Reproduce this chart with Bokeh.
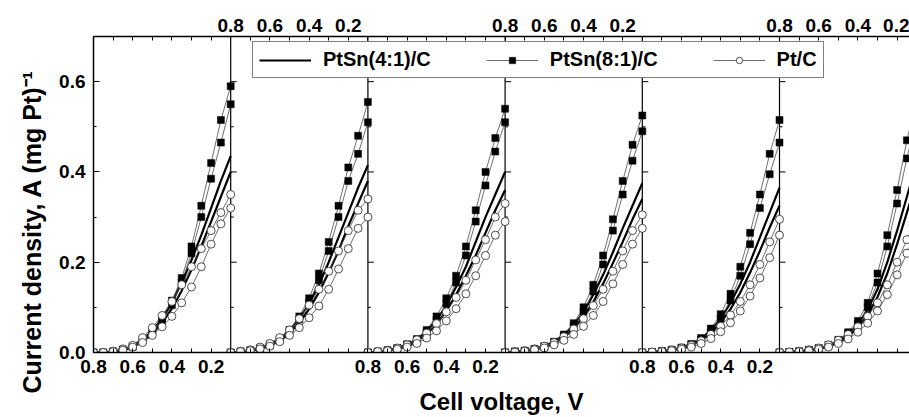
import math

from bokeh.embed import file_html
from bokeh.models import (CustomJSTickFormatter, FixedTicker, Legend, LegendItem,
                          LinearAxis, PrintfTickFormatter, Range1d, Title)
from bokeh.plotting import figure
from bokeh.resources import INLINE

# ---------------------------------------------------------------- data ----
# Cell voltage (V) at which current density was sampled, same grid in every cycle
VOLTAGE = [0.80, 0.75, 0.70, 0.65, 0.60, 0.55, 0.50, 0.45,
           0.40, 0.35, 0.30, 0.25, 0.20, 0.15, 0.10]

# Current density, A (mg Pt)^-1 ; one row per polarisation cycle (panel), two runs per catalyst
PTSN41_A = [
    [0, 0, 0.002, 0.006, 0.014, 0.028, 0.048, 0.075, 0.110, 0.155, 0.205, 0.260, 0.320, 0.380, 0.435],
    [0, 0.002, 0.005, 0.010, 0.018, 0.030, 0.049, 0.075, 0.108, 0.150, 0.200, 0.255, 0.310, 0.365, 0.415],
    [0, 0.002, 0.005, 0.010, 0.017, 0.029, 0.047, 0.072, 0.104, 0.145, 0.190, 0.245, 0.300, 0.350, 0.400],
    [0, 0.002, 0.004, 0.008, 0.014, 0.024, 0.039, 0.060, 0.090, 0.128, 0.172, 0.222, 0.275, 0.325, 0.375],
    [0, 0.001, 0.003, 0.006, 0.011, 0.019, 0.031, 0.049, 0.075, 0.110, 0.152, 0.200, 0.255, 0.310, 0.365],
    [0, 0.001, 0.003, 0.005, 0.009, 0.015, 0.025, 0.040, 0.062, 0.095, 0.140, 0.200, 0.270, 0.345, 0.420],
]
PTSN41_B = [
    [0, 0, 0.002, 0.005, 0.012, 0.024, 0.042, 0.066, 0.097, 0.137, 0.183, 0.235, 0.290, 0.345, 0.400],
    [0, 0.002, 0.004, 0.008, 0.015, 0.026, 0.043, 0.066, 0.096, 0.133, 0.177, 0.225, 0.280, 0.330, 0.380],
    [0, 0.002, 0.004, 0.008, 0.014, 0.025, 0.041, 0.063, 0.092, 0.128, 0.170, 0.215, 0.265, 0.315, 0.360],
    [0, 0.001, 0.003, 0.007, 0.012, 0.021, 0.034, 0.053, 0.079, 0.112, 0.152, 0.198, 0.245, 0.295, 0.340],
    [0, 0.001, 0.002, 0.005, 0.009, 0.016, 0.027, 0.043, 0.066, 0.096, 0.133, 0.177, 0.225, 0.277, 0.325],
    [0, 0.001, 0.002, 0.004, 0.008, 0.013, 0.022, 0.035, 0.055, 0.083, 0.123, 0.175, 0.240, 0.310, 0.380],
]
PTSN81_A = [
    [0, 0, 0.002, 0.006, 0.014, 0.028, 0.048, 0.075, 0.115, 0.165, 0.235, 0.325, 0.420, 0.515, 0.590],
    [0, 0.002, 0.005, 0.010, 0.018, 0.030, 0.050, 0.080, 0.120, 0.175, 0.245, 0.325, 0.410, 0.480, 0.555],
    [0, 0.002, 0.005, 0.010, 0.018, 0.030, 0.050, 0.080, 0.120, 0.170, 0.235, 0.315, 0.400, 0.475, 0.540],
    [0, 0.002, 0.004, 0.008, 0.014, 0.024, 0.040, 0.065, 0.100, 0.150, 0.215, 0.295, 0.380, 0.460, 0.525],
    [0, 0.001, 0.003, 0.006, 0.011, 0.019, 0.032, 0.053, 0.085, 0.130, 0.190, 0.265, 0.350, 0.440, 0.515],
    [0, 0.001, 0.003, 0.006, 0.010, 0.017, 0.028, 0.045, 0.070, 0.110, 0.175, 0.260, 0.360, 0.470, 0.560],
]
PTSN81_B = [
    [0, 0, 0.002, 0.006, 0.013, 0.026, 0.045, 0.070, 0.105, 0.155, 0.220, 0.300, 0.385, 0.465, 0.550],
    [0, 0.002, 0.004, 0.009, 0.016, 0.028, 0.046, 0.073, 0.110, 0.160, 0.225, 0.300, 0.380, 0.440, 0.510],
    [0, 0.002, 0.004, 0.009, 0.016, 0.027, 0.045, 0.072, 0.108, 0.155, 0.215, 0.290, 0.370, 0.445, 0.510],
    [0, 0.002, 0.003, 0.007, 0.012, 0.021, 0.036, 0.058, 0.090, 0.135, 0.195, 0.270, 0.350, 0.425, 0.490],
    [0, 0.001, 0.003, 0.005, 0.010, 0.017, 0.029, 0.047, 0.075, 0.115, 0.170, 0.240, 0.320, 0.395, 0.465],
    [0, 0.001, 0.002, 0.005, 0.009, 0.015, 0.025, 0.040, 0.063, 0.100, 0.155, 0.235, 0.330, 0.430, 0.520],
]
PTC_A = [
    [0, 0, 0.003, 0.008, 0.016, 0.033, 0.055, 0.082, 0.113, 0.150, 0.190, 0.230, 0.270, 0.310, 0.350],
    [0, 0.003, 0.006, 0.012, 0.020, 0.033, 0.050, 0.075, 0.105, 0.140, 0.180, 0.225, 0.270, 0.315, 0.340],
    [0, 0.002, 0.005, 0.010, 0.017, 0.028, 0.043, 0.064, 0.090, 0.122, 0.160, 0.205, 0.250, 0.300, 0.330],
    [0, 0.002, 0.004, 0.008, 0.014, 0.022, 0.035, 0.052, 0.075, 0.104, 0.140, 0.180, 0.225, 0.270, 0.305],
    [0, 0.001, 0.003, 0.006, 0.010, 0.016, 0.026, 0.040, 0.058, 0.083, 0.113, 0.150, 0.195, 0.245, 0.295],
    [0, 0.001, 0.003, 0.006, 0.010, 0.017, 0.027, 0.040, 0.057, 0.080, 0.110, 0.150, 0.200, 0.250, 0.300],
]
PTC_B = [
    [0, 0, 0.002, 0.005, 0.012, 0.022, 0.038, 0.057, 0.080, 0.110, 0.145, 0.190, 0.240, 0.285, 0.320],
    [0, 0.002, 0.004, 0.008, 0.014, 0.024, 0.038, 0.055, 0.077, 0.103, 0.140, 0.185, 0.230, 0.275, 0.300],
    [0, 0.002, 0.004, 0.007, 0.012, 0.020, 0.032, 0.048, 0.070, 0.097, 0.130, 0.170, 0.215, 0.260, 0.290],
    [0, 0.001, 0.003, 0.006, 0.010, 0.017, 0.027, 0.040, 0.058, 0.082, 0.113, 0.152, 0.195, 0.240, 0.275],
    [0, 0.001, 0.002, 0.004, 0.007, 0.012, 0.020, 0.031, 0.046, 0.066, 0.092, 0.125, 0.165, 0.210, 0.260],
    [0, 0.001, 0.002, 0.004, 0.007, 0.012, 0.020, 0.030, 0.045, 0.065, 0.092, 0.128, 0.172, 0.220, 0.270],
]

SERIES_LABELS = ["PtSn(4:1)/C", "PtSn(8:1)/C", "Pt/C"]
Y_TICKS = [0.0, 0.2, 0.4, 0.6]
Y_MINOR_TICKS = [0.1, 0.3, 0.5]
X_LABEL = "Cell voltage, V"
Y_LABEL = "Current density, A (mg Pt)\u207b\u00b9"

# -------------------------------------------------------------- layout ----
W, H = 909, 417
BORDER_LEFT, BORDER_TOP, BORDER_BOTTOM = 93, 36, 63
PANEL_PX = 137.2             # width of one cycle panel in pixels
V_HI, V_LO, V_STEP = 0.8, 0.1, 0.1
Y_MAX = 0.7
FONT = "Liberation Sans"
THIN = "#4a4a4a"

# x is measured in tick steps: panel k spans [k*STEPS, (k+1)*STEPS], voltage falls left to right
STEPS = round((V_HI - V_LO) / V_STEP)
PX_PER_UNIT = PANEL_PX / STEPS
X_END = (W - BORDER_LEFT) / PX_PER_UNIT
N_PANELS = len(PTC_A)


def panel_x(panel, volts):
    return [panel * STEPS + (V_HI - v) / V_STEP for v in volts]


p = figure(width=W, height=H, output_backend="svg", toolbar_location=None,
           x_range=Range1d(0, X_END), y_range=Range1d(0, Y_MAX),
           x_axis_type=None, y_axis_type=None,
           min_border_left=BORDER_LEFT, min_border_right=0,
           min_border_top=BORDER_TOP, min_border_bottom=BORDER_BOTTOM)
p.outline_line_color = None
p.background_fill_color = "white"
p.border_fill_color = "white"

# ---- x axes: bottom labels on cycles 1,3,5; top labels on cycles 2,4,6
tick_code = """
const k = Math.round(tick);
const panel = Math.floor(k / per);
const local = k - panel * per;
if (labeled.indexOf(panel) < 0 || local % 2 != 0) return "";
return (vhi - local * step).toFixed(1);
"""
all_x_ticks = list(range(0, int(math.floor(X_END)) + 1))


def make_x_axis(labeled, title):
    ax = LinearAxis(
        ticker=FixedTicker(ticks=all_x_ticks, minor_ticks=[]),
        formatter=CustomJSTickFormatter(
            args=dict(labeled=labeled, per=STEPS, vhi=V_HI, step=V_STEP), code=tick_code),
        axis_label=title)
    ax.axis_line_width = 1.5
    ax.axis_line_color = "black"
    ax.major_tick_in = 4
    ax.major_tick_out = 0
    ax.major_tick_line_color = "black"
    ax.major_label_text_font = FONT
    ax.major_label_text_font_style = "bold"
    ax.major_label_text_font_size = "19px"
    ax.major_label_text_color = "black"
    ax.axis_label_text_font = FONT
    ax.axis_label_text_font_style = "bold"
    ax.axis_label_text_font_size = "24px"
    ax.axis_label_text_color = "black"
    return ax


bottom_axis = make_x_axis(list(range(0, N_PANELS, 2)), X_LABEL)
bottom_axis.major_label_standoff = 7
bottom_axis.axis_label_standoff = 12
p.add_layout(bottom_axis, "below")

top_axis = make_x_axis(list(range(1, N_PANELS, 2)), None)
top_axis.major_label_standoff = 5
p.add_layout(top_axis, "above")

# ---- y axis; its title sits in a side title so it can be shifted along the axis
y_axis = LinearAxis(ticker=FixedTicker(ticks=Y_TICKS, minor_ticks=Y_MINOR_TICKS),
                    formatter=PrintfTickFormatter(format="%.1f"))
y_axis.axis_line_width = 1.5
y_axis.major_tick_in = 6
y_axis.major_tick_out = 0
y_axis.minor_tick_in = 3
y_axis.minor_tick_out = 0
y_axis.major_label_standoff = 8
y_axis.major_label_text_font = FONT
y_axis.major_label_text_font_style = "bold"
y_axis.major_label_text_font_size = "19px"
y_axis.major_label_text_color = "black"
p.add_layout(y_axis, "left")

# title starts a little below the frame's bottom edge, as on the printed figure
y_title = Title(text=Y_LABEL, align="left", offset=-41, standoff=22,
                text_font=FONT, text_font_style="bold", text_font_size="25px",
                text_color="black")
p.add_layout(y_title, "left")

# ---- panel separators with their own inward ticks
bounds = [k * STEPS for k in range(1, N_PANELS)]
p.segment(x0=bounds, y0=[0] * len(bounds), x1=bounds, y1=[Y_MAX] * len(bounds),
          line_color="black", line_width=1.2)
tick_levels = [t for t in sorted(Y_TICKS + Y_MINOR_TICKS) if t > 0]
tx0, ty, tx1 = [], [], []
for b in bounds:
    for t in tick_levels:
        length = 6 if t in Y_TICKS else 3
        tx0.append(b)
        tx1.append(b + length / PX_PER_UNIT)
        ty.append(t)
p.segment(x0=tx0, y0=ty, x1=tx1, y1=ty, line_color="black", line_width=1)


# ---- curves
def curves(runs):
    xs, ys = [], []
    for run in runs:
        for k, row in enumerate(run):
            xs.append(panel_x(k, VOLTAGE))
            ys.append(row)
    return xs, ys


def flat(xs, ys):
    fx = [x for row in xs for x in row]
    fy = [y for row in ys for y in row]
    return fx, fy


xs41, ys41 = curves([PTSN41_A, PTSN41_B])
r41 = p.multi_line(xs41, ys41, line_color="black", line_width=2.2)

xs81, ys81 = curves([PTSN81_A, PTSN81_B])
r81_line = p.multi_line(xs81, ys81, line_color=THIN, line_width=0.8)
fx81, fy81 = flat(xs81, ys81)
r81_mark = p.scatter(fx81, fy81, marker="square", size=7, fill_color="black",
                     line_color="black", line_width=0.5)

xspt, yspt = curves([PTC_A, PTC_B])
rpt_line = p.multi_line(xspt, yspt, line_color=THIN, line_width=0.8)
fxpt, fypt = flat(xspt, yspt)
rpt_mark = p.scatter(fxpt, fypt, marker="circle", size=8, fill_color="white",
                     line_color="#222222", line_width=0.8)

# ---- legend
legend = Legend(items=[
    LegendItem(label=SERIES_LABELS[0], renderers=[r41]),
    LegendItem(label=SERIES_LABELS[1], renderers=[r81_line, r81_mark]),
    LegendItem(label=SERIES_LABELS[2], renderers=[rpt_line, rpt_mark]),
], orientation="horizontal", location=(159, 274))
legend.glyph_width = 52
legend.glyph_height = 16
legend.label_height = 20
legend.label_standoff = 12
legend.spacing = 55
legend.padding = 6
legend.margin = 0
legend.border_line_color = "black"
legend.border_line_width = 1
legend.background_fill_color = "white"
legend.background_fill_alpha = 1
legend.label_text_font = FONT
legend.label_text_font_style = "bold"
legend.label_text_font_size = "20px"
legend.label_text_color = "black"
p.add_layout(legend)

open("out.html", "w").write(file_html(p, INLINE))
